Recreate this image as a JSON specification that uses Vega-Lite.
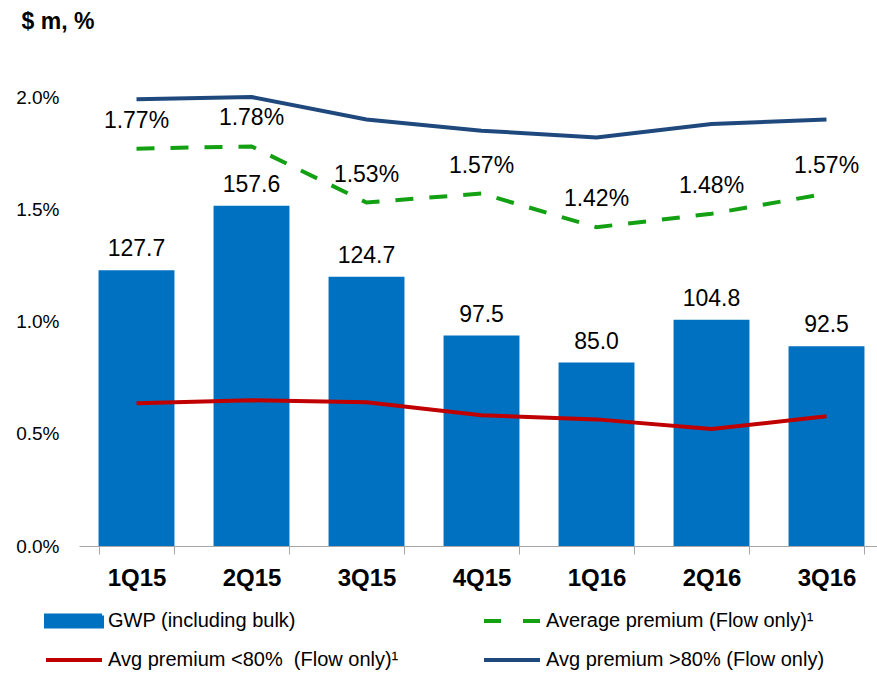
{
  "$schema": "https://vega.github.io/schema/vega-lite/v6.json",
  "width": 798,
  "height": 449,
  "autosize": {"type": "none"},
  "padding": {"left": 79, "top": 97, "right": 0, "bottom": 127},
  "background": "white",
  "config": {"view": {"stroke": null}, "font": "Liberation Sans", "text": {"font": "Liberation Sans"}},
  "data": {"values": [
    {"q": "1Q15", "gwp": 127.7, "avg": 0.0177, "lt80": 0.00636, "gt80": 0.0199},
    {"q": "2Q15", "gwp": 157.6, "avg": 0.0178, "lt80": 0.00649, "gt80": 0.0200},
    {"q": "3Q15", "gwp": 124.7, "avg": 0.0153, "lt80": 0.0064, "gt80": 0.0190},
    {"q": "4Q15", "gwp": 97.5, "avg": 0.0157, "lt80": 0.00582, "gt80": 0.0185},
    {"q": "1Q16", "gwp": 85.0, "avg": 0.0142, "lt80": 0.00564, "gt80": 0.0182},
    {"q": "2Q16", "gwp": 104.8, "avg": 0.0148, "lt80": 0.00521, "gt80": 0.0188},
    {"q": "3Q16", "gwp": 92.5, "avg": 0.0157, "lt80": 0.00578, "gt80": 0.0190}
  ]},
  "encoding": {
    "x": {
      "field": "q", "type": "nominal", "sort": null,
      "scale": {"range": [0, 805], "paddingInner": 0.34, "paddingOuter": 0.17},
      "axis": {
        "title": null, "labelAngle": 0, "labelFont": "Liberation Sans", "labelFontSize": 24,
        "labelFontWeight": "bold", "labelColor": "black", "labelPadding": 12,
        "tickBand": "extent", "tickSize": 8, "tickColor": "#A6A6A6", "tickWidth": 1,
        "domainColor": "#A6A6A6", "domainWidth": 1, "grid": false
      }
    }
  },
  "layer": [
    {
      "encoding": {
        "y": {"field": "gwp", "type": "quantitative", "scale": {"domain": [0, 208], "nice": false}, "axis": null}
      },
      "layer": [
        {
          "mark": {"type": "bar", "color": "#0070C0"},
          "encoding": {
            "color": {
              "datum": "GWP (including bulk)", "type": "nominal",
              "scale": {
                "domain": ["GWP (including bulk)", "Avg premium <80%\u00a0 (Flow only)¹", "Average premium (Flow only)¹", "Avg premium >80% (Flow only)"],
                "range": ["#0070C0", "#C00000", "#13A013", "#1F497D"]
              },
              "legend": {
                "title": null, "orient": "none", "legendX": -35, "legendY": 513,
                "columns": 2, "columnPadding": 83, "rowPadding": 17, "padding": 0,
                "clipHeight": 22, "symbolSize": 3136, "symbolOffset": 0, "symbolStrokeWidth": 4,
                "labelFont": "Liberation Sans", "labelFontSize": 20, "labelColor": "black",
                "labelOffset": 4, "labelLimit": 400,
                "encode": {
                  "symbols": {
                    "update": {
                      "shape": {"signal": "datum.value === 'GWP (including bulk)' ? 'M-1,-0.2H1V0.2H-1Z' : 'M-1,0H1'"},
                      "fill": {"signal": "datum.value === 'GWP (including bulk)' ? '#0070C0' : 'transparent'"},
                      "stroke": {"signal": "datum.value === 'GWP (including bulk)' ? 'transparent' : scale('color', datum.value)"},
                      "strokeDash": {"signal": "datum.value === 'Average premium (Flow only)¹' ? [17, 22] : [1, 0]"},
                      "opacity": {"value": 1}
                    }
                  }
                }
              }
            }
          }
        },
        {
          "mark": {"type": "text", "baseline": "alphabetic", "align": "center", "dy": -14, "fontSize": 23, "color": "black", "font": "Liberation Sans"},
          "encoding": {"text": {"field": "gwp", "type": "quantitative", "format": ".1f"}}
        }
      ]
    },
    {
      "encoding": {
        "y": {
          "type": "quantitative",
          "scale": {"domain": [0, 0.02], "nice": false},
          "axis": {
            "orient": "left", "format": ".1%", "values": [0, 0.005, 0.01, 0.015, 0.02],
            "grid": false, "domain": false, "ticks": false, "labelPadding": 20,
            "labelFont": "Liberation Sans", "labelFontSize": 19, "labelColor": "black",
            "title": "$ m, %", "titleAngle": 0, "titleX": -58, "titleY": -69,
            "titleAlign": "left", "titleBaseline": "alphabetic", "titleFont": "Liberation Sans",
            "titleFontSize": 23, "titleFontWeight": "bold", "titleColor": "black"
          }
        }
      },
      "layer": [
        {
          "mark": {"type": "line", "strokeWidth": 4},
          "encoding": {
            "y": {"field": "lt80", "type": "quantitative"},
            "color": {"datum": "Avg premium <80%\u00a0 (Flow only)¹", "type": "nominal"}
          }
        },
        {
          "mark": {"type": "line", "strokeWidth": 4},
          "encoding": {
            "y": {"field": "gt80", "type": "quantitative"},
            "color": {"datum": "Avg premium >80% (Flow only)", "type": "nominal"}
          }
        },
        {
          "mark": {"type": "line", "strokeWidth": 4, "strokeDash": [18, 16]},
          "encoding": {
            "y": {"field": "avg", "type": "quantitative"},
            "color": {"datum": "Average premium (Flow only)¹", "type": "nominal"}
          }
        },
        {
          "mark": {"type": "text", "baseline": "alphabetic", "align": "center", "dy": -21, "fontSize": 23, "color": "black", "font": "Liberation Sans"},
          "encoding": {
            "y": {"field": "avg", "type": "quantitative"},
            "text": {"field": "avg", "type": "quantitative", "format": ".2%"}
          }
        }
      ]
    }
  ],
  "resolve": {"scale": {"y": "independent"}}
}
